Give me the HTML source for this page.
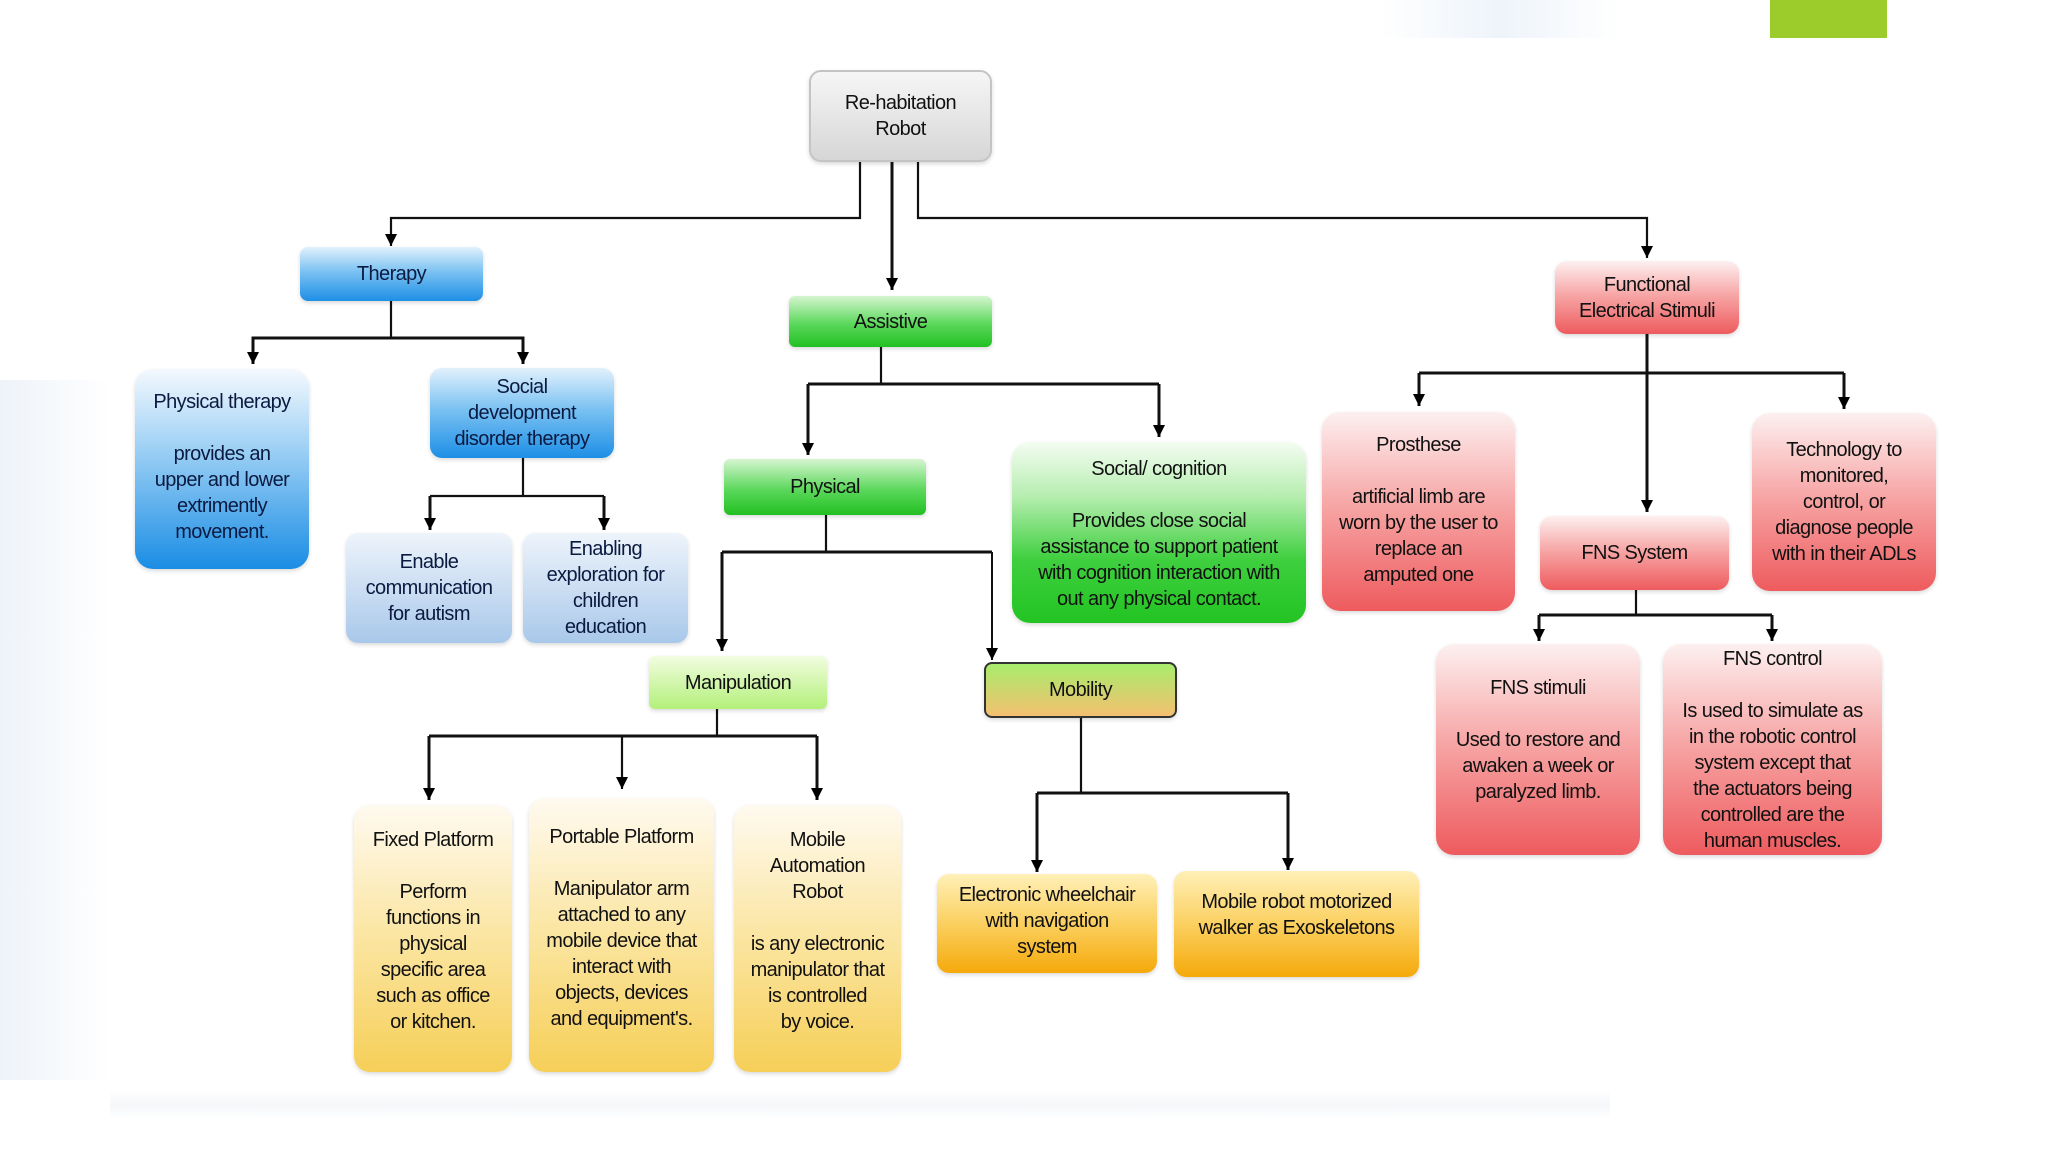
<!DOCTYPE html>
<html><head><meta charset="utf-8"><style>
html,body{margin:0;padding:0;}
body{width:2048px;height:1152px;position:relative;overflow:hidden;background:#fff;font-family:"Liberation Sans",sans-serif;}
.b{position:absolute;box-sizing:border-box;border-radius:12px;display:flex;flex-direction:column;align-items:center;justify-content:center;text-align:center;font-size:20px;line-height:26px;color:#111;letter-spacing:-0.6px;box-shadow:0 2px 4px rgba(0,0,0,0.15);}
.gray{background:linear-gradient(#f6f6f6,#d6d6d6);border:2px solid #c4c4c4;}
.blue{background:linear-gradient(#e2f1fc 0%,#7cc2f2 45%,#1d8fe6 100%);color:#0a1a40;}
.blue2{background:linear-gradient(#f4f9fe 0%,#9dd0f5 40%,#1a8de4 100%);color:#0a1a40;}
.lblue{background:linear-gradient(#eef4fb,#a9c8ea);color:#0a1a40;}
.green{background:linear-gradient(#d6f5d0 0%,#5bd85b 55%,#22c022 100%);}
.green2{background:linear-gradient(#f4fcf2 0%,#b6eeb0 30%,#3fcf3f 65%,#22c422 100%);}
.red{background:linear-gradient(#fdf0f0 0%,#f7a8a8 45%,#ee5b5e 100%);}
.manip{background:linear-gradient(#f2fde0,#b3f07a);}
.mob{background:linear-gradient(#a8ec6c,#f4c070);border:2px solid #333;}
.yel{background:linear-gradient(#fffaf0 0%,#fbe7a8 45%,#f6cf58 100%);}
.org{background:linear-gradient(#fff0b8 0%,#fbd060 50%,#f5a90a 100%);}
</style></head><body>
<div style="position:absolute;left:1770px;top:0;width:117px;height:38px;background:#9ccb2c;"></div>
<div style="position:absolute;left:1380px;top:0;width:240px;height:38px;background:linear-gradient(90deg,#fff,#eef4fa,#fff);"></div>
<div style="position:absolute;left:0;top:380px;width:110px;height:700px;background:linear-gradient(90deg,#eef3f9,#fff);"></div>
<div style="position:absolute;left:110px;top:1090px;width:1500px;height:30px;background:linear-gradient(#fff,#f5f7fa,#fff);"></div>

<svg width="2048" height="1152" style="position:absolute;left:0;top:0" xmlns="http://www.w3.org/2000/svg">
<defs><marker id="a" markerWidth="10" markerHeight="10" refX="5" refY="9" orient="auto" markerUnits="userSpaceOnUse"><path d="M0,0 L10,0 L5,10 z" fill="#000" transform="rotate(-90 5 5)"/></marker>
<marker id="m" viewBox="0 0 10 10" refX="10" refY="5" markerWidth="12" markerHeight="14" orient="auto" markerUnits="userSpaceOnUse"><path d="M0,0 L10,5 L0,10 z" fill="#000"/></marker></defs>
<g fill="none" stroke="#111" stroke-width="2.2">
<path d="M860,162 V218 H391 V246" marker-end="url(#m)"/>
<path d="M892,162 V290" marker-end="url(#m)" stroke-width="3"/>
<path d="M918,162 V218 H1647 V258" marker-end="url(#m)"/>
<path d="M391,301 V338"/><path d="M253,364 V338 H523 V364" marker-end="url(#m)" stroke-width="3"/>
<path d="M253,338 V364" marker-end="url(#m)" stroke-width="3"/>
<path d="M523,458 V496"/><path d="M430,496 H604"/><path d="M430,496 V530" marker-end="url(#m)" stroke-width="3"/><path d="M604,496 V530" marker-end="url(#m)" stroke-width="3"/>
<path d="M881,347 V384"/><path d="M808,384 H1159" stroke-width="3"/><path d="M808,384 V455" marker-end="url(#m)" stroke-width="3"/><path d="M1159,384 V437" marker-end="url(#m)" stroke-width="3"/>
<path d="M826,515 V552"/><path d="M722,552 H992" stroke-width="3"/><path d="M722,552 V651" marker-end="url(#m)" stroke-width="3"/><path d="M992,552 V660" marker-end="url(#m)" stroke-width="2"/>
<path d="M717,709 V736"/><path d="M429,736 H817" stroke-width="3"/><path d="M429,736 V800" marker-end="url(#m)" stroke-width="3"/><path d="M622,736 V789" marker-end="url(#m)"/><path d="M817,736 V800" marker-end="url(#m)" stroke-width="3"/>
<path d="M1081,718 V793"/><path d="M1037,793 H1288" stroke-width="3"/><path d="M1037,793 V872" marker-end="url(#m)" stroke-width="3"/><path d="M1288,793 V870" marker-end="url(#m)" stroke-width="3"/>
<path d="M1647,334 V512" marker-end="url(#m)" stroke-width="3"/><path d="M1419,373 H1844" stroke-width="3"/><path d="M1419,373 V406" marker-end="url(#m)" stroke-width="3"/><path d="M1844,373 V409" marker-end="url(#m)" stroke-width="3"/>
<path d="M1636,590 V615"/><path d="M1539,615 H1772" stroke-width="3"/><path d="M1539,615 V641" marker-end="url(#m)" stroke-width="3"/><path d="M1772,615 V641" marker-end="url(#m)" stroke-width="3"/>
</g></svg>

<div class="b gray" style="left:809px;top:70px;width:183px;height:92px;">Re-habitation<br>Robot</div>
<div class="b blue" style="left:300px;top:247px;width:183px;height:54px;border-radius:8px;">Therapy</div>
<div class="b green" style="left:789px;top:296px;width:203px;height:51px;border-radius:6px;">Assistive</div>
<div class="b red" style="left:1555px;top:261px;width:184px;height:73px;">Functional<br>Electrical Stimuli</div>
<div class="b blue2" style="left:135px;top:369px;width:174px;height:200px;justify-content:flex-start;padding-top:20px;border-radius:18px;">Physical therapy<br><br>provides an<br>upper and lower<br>extrimently<br>movement.</div>
<div class="b blue" style="left:430px;top:368px;width:184px;height:90px;">Social<br>development<br>disorder therapy</div>
<div class="b lblue" style="left:346px;top:533px;width:166px;height:110px;">Enable<br>communication<br>for autism</div>
<div class="b lblue" style="left:523px;top:533px;width:165px;height:110px;">Enabling<br>exploration for<br>children<br>education</div>
<div class="b green" style="left:724px;top:459px;width:202px;height:56px;border-radius:6px;">Physical</div>
<div class="b green2" style="left:1012px;top:442px;width:294px;height:181px;justify-content:flex-start;padding-top:14px;border-radius:18px;">Social/ cognition<br><br>Provides close social<br>assistance to support patient<br>with cognition interaction with<br>out any physical contact.</div>
<div class="b red" style="left:1322px;top:412px;width:193px;height:199px;justify-content:flex-start;padding-top:20px;border-radius:18px;">Prosthese<br><br>artificial limb are<br>worn by the user to<br>replace an<br>amputed one</div>
<div class="b red" style="left:1540px;top:516px;width:189px;height:74px;">FNS System</div>
<div class="b red" style="left:1752px;top:413px;width:184px;height:178px;border-radius:18px;">Technology to<br>monitored,<br>control, or<br>diagnose  people<br>with in their ADLs</div>
<div class="b red" style="left:1436px;top:644px;width:204px;height:211px;border-radius:18px;padding-bottom:20px;">FNS stimuli<br><br>Used to restore and<br>awaken a week or<br>paralyzed limb.</div>
<div class="b red" style="left:1663px;top:644px;width:219px;height:211px;justify-content:flex-start;padding-top:+2px;border-radius:18px;">FNS control<br><br>Is used to simulate as<br>in the robotic control<br>system except that<br>the actuators being<br>controlled are the<br>human muscles.</div>
<div class="b manip" style="left:649px;top:656px;width:178px;height:53px;border-radius:6px;">Manipulation</div>
<div class="b mob" style="left:984px;top:662px;width:193px;height:56px;border-radius:8px;">Mobility</div>
<div class="b yel" style="left:354px;top:805px;width:158px;height:267px;justify-content:flex-start;padding-top:22px;border-radius:16px;">Fixed Platform<br><br>Perform<br>functions in<br>physical<br>specific area<br>such as office<br>or kitchen.</div>
<div class="b yel" style="left:529px;top:798px;width:185px;height:274px;justify-content:flex-start;padding-top:26px;border-radius:16px;">Portable Platform<br><br>Manipulator arm<br>attached to any<br>mobile device that<br>interact with<br>objects, devices<br>and equipment's.</div>
<div class="b yel" style="left:734px;top:805px;width:167px;height:267px;justify-content:flex-start;padding-top:22px;border-radius:16px;">Mobile<br>Automation<br>Robot<br><br>is any electronic<br>manipulator that<br>is controlled<br>by voice.</div>
<div class="b org" style="left:937px;top:874px;width:220px;height:99px;justify-content:flex-start;padding-top:8px;">Electronic wheelchair<br>with navigation<br>system</div>
<div class="b org" style="left:1174px;top:871px;width:245px;height:106px;padding-bottom:18px;">Mobile robot motorized<br>walker as Exoskeletons</div>
</body></html>
